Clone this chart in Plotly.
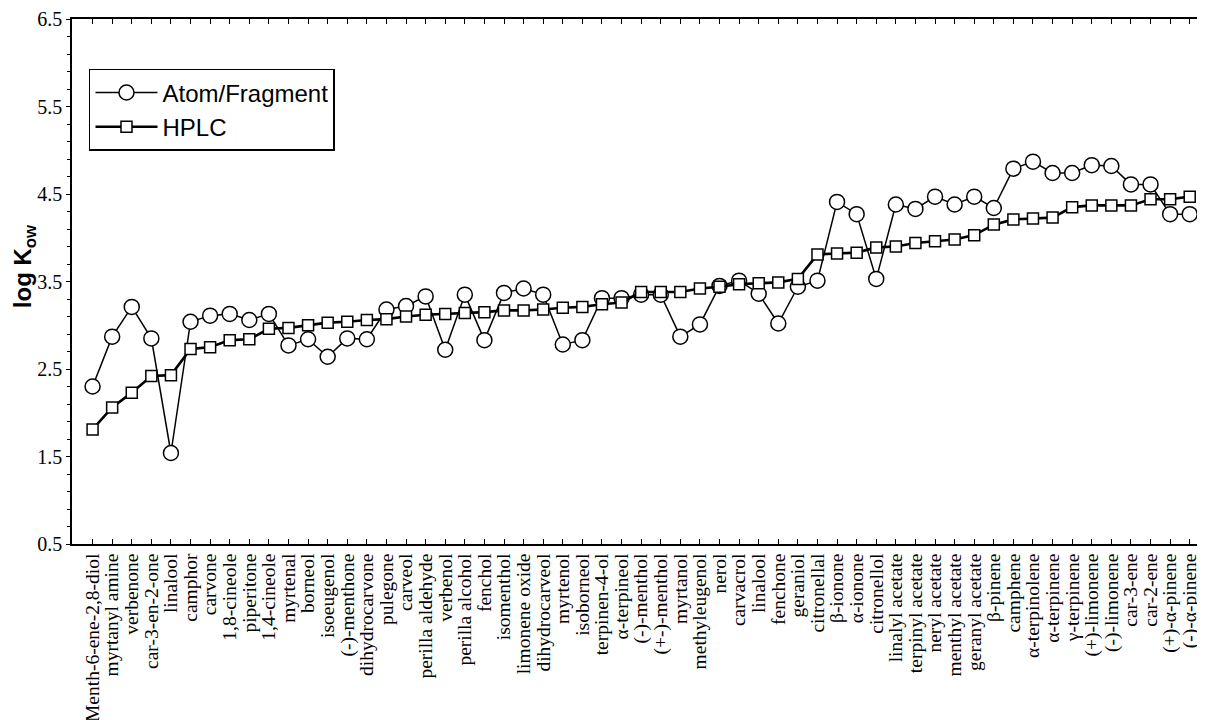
import plotly.graph_objects as go

categories = [
    "Menth-6-ene-2,8-diol", "myrtanyl amine", "verbenone", "car-3-en-2-one", "linalool",
    "camphor", "carvone", "1,8-cineole", "piperitone", "1,4-cineole",
    "myrtenal", "borneol", "isoeugenol", "(-)-menthone", "dihydrocarvone",
    "pulegone", "carveol", "perilla aldehyde", "verbenol", "perilla alcohol",
    "fenchol", "isomenthol", "limonene oxide", "dihydrocarveol", "myrtenol",
    "isoborneol", "terpinen-4-ol", "α-terpineol", "(-)-menthol", "(+-)-menthol",
    "myrtanol", "methyleugenol", "nerol", "carvacrol", "linalool",
    "fenchone", "geraniol", "citronellal", "β-ionone", "α-ionone",
    "citronellol", "linalyl acetate", "terpinyl acetate", "neryl acetate", "menthyl acetate",
    "geranyl acetate", "β-pinene", "camphene", "α-terpinolene", "α-terpinene",
    "γ-terpinene", "(+)-limonene", "(-)-limonene", "car-3-ene", "car-2-ene",
    "(+)-α-pinene", "(-)-α-pinene",
]

atom_fragment = [
    2.30, 2.87, 3.21, 2.85, 1.54, 3.04, 3.11, 3.13, 3.06, 3.13,
    2.77, 2.84, 2.64, 2.85, 2.84, 3.18, 3.22, 3.33, 2.72, 3.35,
    2.83, 3.37, 3.42, 3.35, 2.78, 2.83, 3.31, 3.31, 3.35, 3.35,
    2.87, 3.01, 3.45, 3.51, 3.36, 3.02, 3.44, 3.51, 4.41, 4.27,
    3.53, 4.38, 4.33, 4.47, 4.38, 4.47, 4.34, 4.79, 4.87, 4.74,
    4.74, 4.83, 4.82, 4.61, 4.61, 4.27, 4.27,
]

hplc = [
    1.81, 2.06, 2.23, 2.42, 2.43, 2.73, 2.75, 2.83, 2.84, 2.96,
    2.97, 3.00, 3.03, 3.04, 3.06, 3.07, 3.10, 3.12, 3.13, 3.14,
    3.15, 3.17, 3.17, 3.18, 3.20, 3.21, 3.24, 3.26, 3.38, 3.38,
    3.38, 3.42, 3.44, 3.47, 3.48, 3.49, 3.53, 3.81, 3.82, 3.83,
    3.89, 3.90, 3.94, 3.96, 3.98, 4.03, 4.15, 4.21, 4.22, 4.23,
    4.35, 4.37, 4.37, 4.37, 4.44, 4.44, 4.47,
]

y_ticks = [0.5, 1.5, 2.5, 3.5, 4.5, 5.5, 6.5]

x = list(range(len(categories)))

fig = go.Figure()
fig.add_trace(go.Scatter(
    x=x, y=atom_fragment, name="Atom/Fragment", mode="lines+markers",
    line=dict(color="black", width=1.5),
    marker=dict(symbol="circle", size=15, color="white", line=dict(color="black", width=1.5)),
))
fig.add_trace(go.Scatter(
    x=x, y=hplc, name="HPLC", mode="lines+markers",
    line=dict(color="black", width=2.6),
    marker=dict(symbol="square", size=11, color="white", line=dict(color="black", width=1.5)),
))

fig.update_layout(
    width=1197, height=712,
    margin=dict(l=64, r=0, t=11, b=176),
    paper_bgcolor="white", plot_bgcolor="white",
    showlegend=True,
    legend=dict(
        x=0.015, y=0.905, xanchor="left", yanchor="top",
        bgcolor="white", bordercolor="black", borderwidth=1.5,
        font=dict(family="Liberation Sans, Arial, sans-serif", size=24, color="black"),
        itemwidth=62, tracegroupgap=0,
    ),
    font=dict(family="Liberation Serif, Times New Roman, serif", color="black"),
    annotations=[dict(
        text="<b>log K<sub>ow</sub></b>", xref="paper", yref="paper",
        x=-0.042, y=0.53, xanchor="center", yanchor="middle", textangle=-90,
        showarrow=False,
        font=dict(family="Liberation Sans, Arial, sans-serif", size=24, color="black"),
    )],
)

fig.update_xaxes(
    range=[-1.05, 56.78], automargin=False,
    tickmode="array", tickvals=x, ticktext=categories, tickangle=-90,
    tickfont=dict(family="Liberation Serif, Times New Roman, serif", size=19.5, color="black"),
    showline=True, linecolor="black", linewidth=1.5, mirror="ticks",
    ticks="inside", ticklen=5, tickcolor="black", tickwidth=1.2,
    showgrid=False, zeroline=False,
)
fig.update_yaxes(
    range=[0.5, 6.5], automargin=False,
    tickmode="array", tickvals=y_ticks, ticktext=[f"{v:.1f}" for v in y_ticks],
    tickfont=dict(family="Liberation Serif, Times New Roman, serif", size=20, color="black"),
    showline=True, linecolor="black", linewidth=1.5,
    ticks="outside", ticklen=4, tickcolor="black", tickwidth=1.2,
    minor=dict(ticks="outside", dtick=0.2, tick0=0.5, ticklen=3, tickcolor="black", tickwidth=1),
    showgrid=False, zeroline=False,
)

fig.write_html("out.html")
